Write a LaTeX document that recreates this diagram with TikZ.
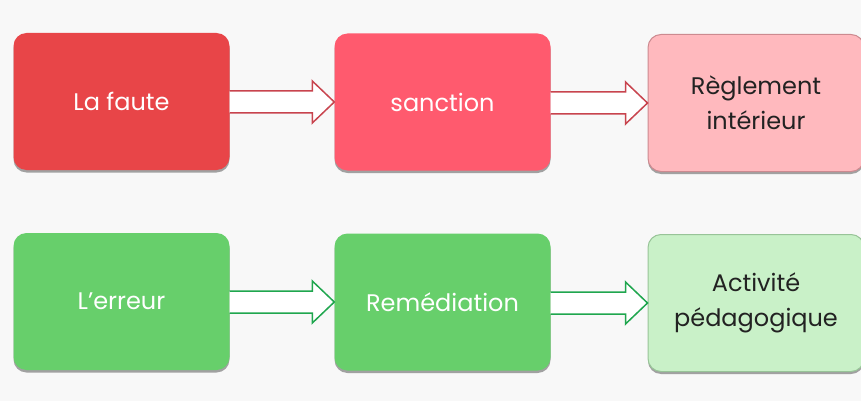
\documentclass[tikz,border=0pt]{standalone}
\usepackage{fontspec}
\setmainfont{Poppins}
\usetikzlibrary{calc,shadows}
\definecolor{bg}{HTML}{F8F8F8}
\definecolor{redA}{HTML}{E84548}
\definecolor{redB}{HTML}{FF5A6E}
\definecolor{redC}{HTML}{FFB9BE}
\definecolor{redCline}{HTML}{CC8A90}
\definecolor{redArrow}{HTML}{C8444E}
\definecolor{grnA}{HTML}{67CF6B}
\definecolor{grnC}{HTML}{C9F1C8}
\definecolor{grnCline}{HTML}{98C498}
\definecolor{grnArrow}{HTML}{1FA64E}
\definecolor{txtdark}{HTML}{222222}
\tikzset{
  box/.style={rounded corners=13pt, minimum width=216pt, minimum height=137pt,
    inner sep=0pt, align=center, font=\fontsize{24}{35}\selectfont,
    drop shadow={shadow xshift=0pt, shadow yshift=-2.5pt, fill=black!45, opacity=0.8}},
  darkbox/.style={box, text=white, draw=none},
  lightbox/.style={box, text=txtdark, line width=1pt},
  blockarrow/.style={fill=white, line width=1.5pt, line join=miter},
}
\newcommand{\blockarr}[3]{%
  \draw[blockarrow, draw=#3] ($(#1.east |- #2.west)+(0,-11)$) -- ($(#2.west)+(-22,-11)$)
    -- ($(#2.west)+(-22,-21)$) -- (#2.west) -- ($(#2.west)+(-22,21)$)
    -- ($(#2.west)+(-22,11)$) -- ($(#1.east |- #2.west)+(0,11)$);}
\begin{document}
\begin{tikzpicture}[x=1pt,y=-1pt]
\fill[bg] (0,0) rectangle (861,401);
\useasboundingbox (0,0) rectangle (861,401);
\node[darkbox, fill=redA] (f) at (121.5,101.5) {La faute};
\node[darkbox, fill=redB] (s) at (442.5,102) {sanction};
\node[lightbox, fill=redC, draw=redCline] (r) at (756,103) {Règlement\\intérieur};
\node[darkbox, fill=grnA] (e) at (121.5,301.5) {L’erreur};
\node[darkbox, fill=grnA] (m) at (442.5,302) {Remédiation};
\node[lightbox, fill=grnC, draw=grnCline] (a) at (756,303) {Activité\\pédagogique};
\blockarr{f}{s}{redArrow}
\blockarr{s}{r}{redArrow}
\blockarr{e}{m}{grnArrow}
\blockarr{m}{a}{grnArrow}
\end{tikzpicture}
\end{document}
